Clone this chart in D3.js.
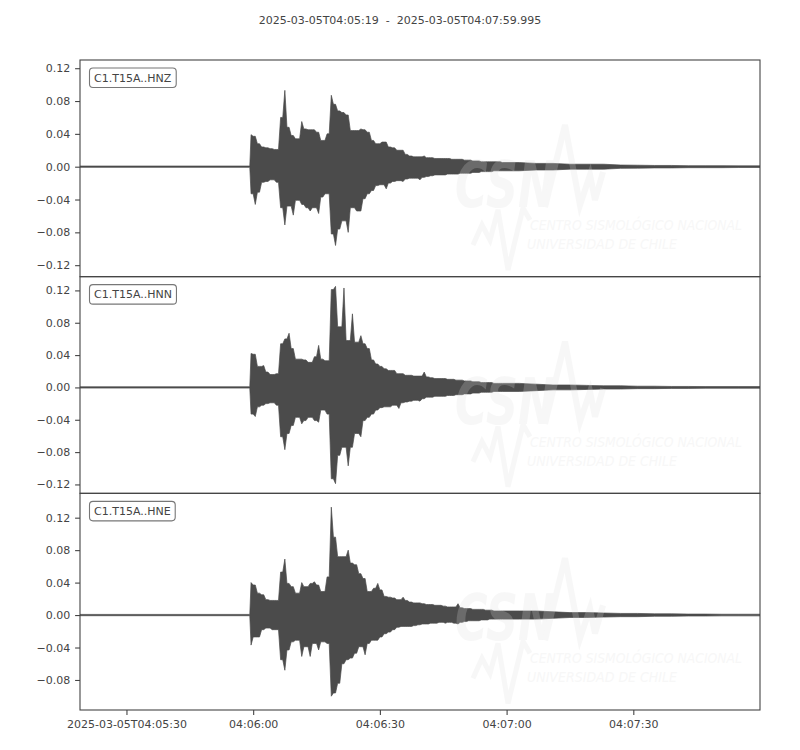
<!DOCTYPE html>
<html><head><meta charset="utf-8">
<script src="https://cdn.jsdelivr.net/npm/d3@7"></script>
<style>
body{margin:0;background:#fff}
svg{display:block;font-family:"DejaVu Sans",sans-serif}
</style>
</head><body>
<svg id="chart" width="800" height="750"></svg>
<script>
// ---------------- data ----------------
const titleText = "2025-03-05T04:05:19  -  2025-03-05T04:07:59.995";
const channels = ["C1.T15A..HNZ", "C1.T15A..HNN", "C1.T15A..HNE"];
const startIso = "2025-03-05T04:05:19Z";
const durationSec = 160.995;
const onsetSec = 40.2;          // P arrival (s after start)
const binStartSec = 40;         // 1-s envelope bins start here
const preNoise = [0.0008, 0.0008, 0.0008];

// per-second envelope maxima / minima, bins 40 s .. 99 s
const hnzUpper = [0.039,0.037,0.028,0.024,0.023,0.022,0.021,0.060,0.093,0.048,
                  0.038,0.034,0.055,0.046,0.045,0.045,0.042,0.032,0.040,0.087,
                  0.076,0.068,0.066,0.063,0.044,0.044,0.046,0.045,0.042,0.032,
                  0.028,0.030,0.030,0.024,0.023,0.020,0.020,0.015,0.013,0.012,
                  0.012,0.013,0.011,0.011,0.010,0.010,0.010,0.010,0.009,0.009,
                  0.009,0.008,0.008,0.007,0.007,0.006,0.006,0.006,0.006,0.006];
const hnzLower = [-0.033,-0.046,-0.031,-0.019,-0.018,-0.016,-0.019,-0.050,-0.071,-0.048,
                  -0.059,-0.041,-0.046,-0.050,-0.054,-0.050,-0.057,-0.037,-0.033,-0.082,
                  -0.096,-0.076,-0.066,-0.080,-0.050,-0.054,-0.054,-0.039,-0.033,-0.029,
                  -0.023,-0.022,-0.027,-0.020,-0.018,-0.017,-0.018,-0.015,-0.014,-0.014,
                  -0.016,-0.013,-0.012,-0.011,-0.010,-0.010,-0.010,-0.009,-0.009,-0.009,
                  -0.008,-0.008,-0.008,-0.007,-0.007,-0.006,-0.006,-0.006,-0.005,-0.005];
const hnnUpper = [0.042,0.041,0.026,0.027,0.019,0.016,0.017,0.054,0.060,0.067,
                  0.048,0.035,0.035,0.034,0.031,0.038,0.052,0.035,0.033,0.121,
                  0.125,0.075,0.123,0.058,0.091,0.056,0.064,0.054,0.048,0.034,
                  0.029,0.026,0.023,0.021,0.021,0.017,0.017,0.015,0.015,0.014,
                  0.014,0.019,0.013,0.012,0.011,0.011,0.011,0.010,0.010,0.009,
                  0.009,0.008,0.008,0.007,0.007,0.006,0.006,0.006,0.005,0.005];
const hnnLower = [-0.033,-0.036,-0.024,-0.022,-0.020,-0.019,-0.022,-0.061,-0.077,-0.057,
                  -0.047,-0.037,-0.045,-0.041,-0.037,-0.041,-0.043,-0.028,-0.033,-0.113,
                  -0.119,-0.084,-0.074,-0.097,-0.074,-0.057,-0.061,-0.041,-0.037,-0.033,
                  -0.028,-0.025,-0.024,-0.024,-0.022,-0.026,-0.019,-0.018,-0.017,-0.016,
                  -0.017,-0.014,-0.012,-0.012,-0.011,-0.011,-0.011,-0.010,-0.010,-0.009,
                  -0.009,-0.008,-0.008,-0.007,-0.007,-0.006,-0.006,-0.006,-0.005,-0.005];
const hneUpper = [0.040,0.037,0.027,0.025,0.019,0.018,0.018,0.053,0.069,0.039,
                  0.035,0.027,0.040,0.035,0.039,0.041,0.037,0.029,0.047,0.133,
                  0.096,0.072,0.072,0.080,0.064,0.062,0.051,0.045,0.029,0.033,
                  0.039,0.031,0.023,0.022,0.021,0.019,0.022,0.018,0.016,0.015,
                  0.015,0.014,0.013,0.013,0.012,0.012,0.011,0.010,0.010,0.014,
                  0.009,0.008,0.008,0.007,0.007,0.007,0.006,0.006,0.005,0.005];
const hneLower = [-0.037,-0.027,-0.027,-0.018,-0.016,-0.018,-0.018,-0.055,-0.068,-0.043,
                  -0.033,-0.031,-0.051,-0.039,-0.051,-0.035,-0.043,-0.033,-0.035,-0.100,
                  -0.096,-0.084,-0.060,-0.055,-0.053,-0.047,-0.039,-0.049,-0.035,-0.031,
                  -0.031,-0.027,-0.023,-0.021,-0.018,-0.015,-0.014,-0.014,-0.014,-0.013,
                  -0.012,-0.011,-0.011,-0.010,-0.010,-0.009,-0.010,-0.009,-0.010,-0.011,
                  -0.009,-0.008,-0.007,-0.007,-0.007,-0.006,-0.006,-0.005,-0.005,-0.005];

// coda tail amplitude (symmetric), at these times (s)
const tailTimes = [100,104,108,112,116,120,124,128,132,136,140,144,148,152,156,161];
const hnzTail = [0.005,0.005,0.004,0.004,0.003,0.003,0.003,0.002,0.0018,0.0015,0.0015,0.0012,0.0012,0.0012,0.001,0.001];
const hnnTail = [0.005,0.005,0.004,0.003,0.003,0.0025,0.002,0.002,0.0015,0.0015,0.0012,0.0012,0.001,0.001,0.001,0.001];
const hneTail = [0.005,0.005,0.005,0.004,0.003,0.003,0.0025,0.002,0.002,0.0015,0.0015,0.0012,0.0012,0.001,0.001,0.001];

const yDomains = [[-0.134, 0.130], [-0.131, 0.137], [-0.117, 0.150]];
const yTickValues = [[-0.12,-0.08,-0.04,0,0.04,0.08,0.12],
                     [-0.12,-0.08,-0.04,0,0.04,0.08,0.12],
                     [-0.08,-0.04,0,0.04,0.08,0.12]];
const xTickSeconds = [11, 41, 71, 101, 131];
const watermarkLines = ["CENTRO SISMOLÓGICO NACIONAL", "UNIVERSIDAD DE CHILE"];

const upperSets = [hnzUpper, hnnUpper, hneUpper];
const lowerSets = [hnzLower, hnnLower, hneLower];
const tailSets = [hnzTail, hnnTail, hneTail];

// ---------------- layout ----------------
const W = 800, H = 750;
const left = 80, right = 760, top0 = 60, bottom = 710;
const nP = 3, pH = (bottom - top0) / nP;
const waveColor = "#4b4b4b", axisColor = "#444", textColor = "#444";
const wmColor = "#dcdcdc";

const startMs = Date.parse(startIso);
const toDate = s => new Date(startMs + s * 1000);

const svg = d3.select("#chart");
const x = d3.scaleUtc().domain([toDate(0), toDate(durationSec)]).range([left, right]);

svg.append("text")
  .attr("x", W / 2).attr("y", 24)
  .attr("text-anchor", "middle")
  .attr("font-size", 11).attr("fill", textColor)
  .style("white-space", "pre")
  .text(titleText);

function buildPoints(upper, lower, tail, pre) {
  const pts = [{t: 0, up: pre, lo: -pre}, {t: onsetSec, up: pre, lo: -pre}];
  upper.forEach((u, i) => {
    const t = binStartSec + i;
    pts.push({t: t + 0.5, up: u, lo: lower[i]});
    const nu = i + 1 < upper.length ? upper[i + 1] : tail[0];
    const nl = i + 1 < lower.length ? lower[i + 1] : -tail[0];
    pts.push({t: t + 1, up: Math.min(u, nu), lo: Math.max(lower[i], nl)});
  });
  tailTimes.forEach((t, i) => pts.push({t: Math.min(t, durationSec), up: tail[i], lo: -tail[i]}));
  return pts;
}

const defs = svg.append("defs");

channels.forEach((ch, i) => {
  const top = top0 + i * pH, bot = top + pH;
  const y = d3.scaleLinear().domain(yDomains[i]).range([bot, top]);
  const g = svg.append("g");

  defs.append("clipPath").attr("id", "clip" + i)
    .append("rect").attr("x", left).attr("y", top).attr("width", right - left).attr("height", pH);

  const pts = buildPoints(upperSets[i], lowerSets[i], tailSets[i], preNoise[i]);
  const area = d3.area()
    .x(d => x(toDate(d.t)))
    .y0(d => y(d.lo))
    .y1(d => y(d.up));

  g.append("path")
    .attr("clip-path", `url(#clip${i})`)
    .attr("d", area(pts))
    .attr("fill", waveColor)
    .attr("stroke", waveColor)
    .attr("stroke-width", 0.7)
    .attr("stroke-linejoin", "round");

  // very faint watermark
  const wm = g.append("g")
    .attr("transform", `translate(${left},${top})`)
    .attr("fill", wmColor).attr("stroke", "none").attr("opacity", 0.22);
  wm.append("text").attr("x", 375).attr("y", 147)
    .attr("font-size", 64).attr("font-weight", "bold").attr("font-style", "italic")
    .attr("textLength", 100).attr("lengthAdjust", "spacingAndGlyphs").text("CSN");
  wm.append("path").attr("d", "M465,147 L485,65 L500,145 L510,115 L515,140 L523,112")
    .attr("fill", "none").attr("stroke", wmColor).attr("stroke-width", 6);
  wm.append("path").attr("d", "M393,185 L402,165 L410,180 L418,150 L428,210 L443,148 L450,160")
    .attr("fill", "none").attr("stroke", wmColor).attr("stroke-width", 5);
  wm.append("text").attr("x", 450).attr("y", 170).attr("font-size", 14).attr("font-style", "italic")
    .attr("textLength", 212).attr("lengthAdjust", "spacingAndGlyphs").text(watermarkLines[0]);
  wm.append("text").attr("x", 447).attr("y", 189).attr("font-size", 14).attr("font-style", "italic")
    .attr("textLength", 150).attr("lengthAdjust", "spacingAndGlyphs").text(watermarkLines[1]);

  // frame
  g.append("rect").attr("x", left).attr("y", top).attr("width", right - left).attr("height", pH)
    .attr("fill", "none").attr("stroke", axisColor).attr("stroke-width", 1.1);

  // y axis
  const ya = g.append("g").attr("transform", `translate(${left},0)`)
    .call(d3.axisLeft(y).tickValues(yTickValues[i]).tickSize(4.9).tickPadding(4.9)
      .tickFormat(d3.format(".2f")));
  ya.select(".domain").remove();
  ya.selectAll("line").attr("stroke", axisColor).attr("stroke-width", 1.1);
  ya.selectAll("text").attr("fill", textColor).attr("font-size", 11)
    .attr("font-family", "DejaVu Sans, sans-serif");

  // channel label
  const lbl = g.append("g");
  const lt = lbl.append("text").attr("x", left + 14).attr("y", top + 21.5)
    .attr("font-size", 11).attr("fill", textColor).text(ch);
  const bb = lt.node().getBBox();
  lbl.insert("rect", "text")
    .attr("x", bb.x - 4.5).attr("y", top + 8).attr("width", bb.width + 9).attr("height", 19.5)
    .attr("rx", 3.5).attr("fill", "#fff").attr("stroke", "#777").attr("stroke-width", 1.1);

  if (i === nP - 1) {
    const xa = g.append("g").attr("transform", `translate(0,${bot})`)
      .call(d3.axisBottom(x).tickValues(xTickSeconds.map(toDate)).tickSize(4.9).tickPadding(4.9)
        .tickFormat((d, k) => k === 0 ? d3.utcFormat("%Y-%m-%dT%H:%M:%S")(d) : d3.utcFormat("%H:%M:%S")(d)));
    xa.select(".domain").remove();
    xa.selectAll("line").attr("stroke", axisColor).attr("stroke-width", 1.1);
    xa.selectAll("text").attr("fill", textColor).attr("font-size", 11)
      .attr("font-family", "DejaVu Sans, sans-serif");
  }
});
</script>
</body></html>
